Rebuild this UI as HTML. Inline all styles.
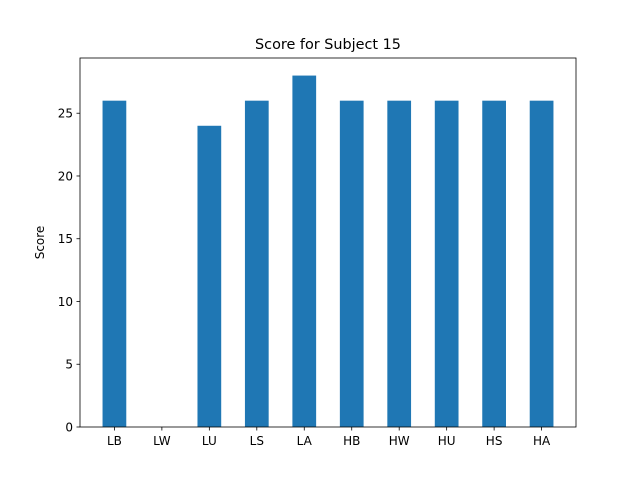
<!DOCTYPE html>
<html><head><meta charset="utf-8"><style>body{margin:0;background:#fff}svg{display:block;font-family:"DejaVu Sans","Liberation Sans",sans-serif}</style></head>
<body>
<svg id="chart" width="640" height="480" viewBox="0 0 640 480" xmlns="http://www.w3.org/2000/svg">
<rect width="640" height="480" fill="#fff"/>
<text x="328" y="49" text-anchor="middle" font-size="14.4">Score for Subject 15</text>
<text transform="translate(44,242.5) rotate(-90)" text-anchor="middle" font-size="12">Score</text>
<g id="marks"></g>
<rect x="80" y="58" width="496" height="369" fill="none" stroke="#000" stroke-width="0.8"/>
</svg>
<script>
const categories = ["LB","LW","LU","LS","LA","HB","HW","HU","HS","HA"];
const scores = [26,0,24,26,28,26,26,26,26,26];
const yTicks = [0,5,10,15,20,25];
const L=80,R=576,T=58,B=427;
const xmin=-0.725,xmax=categories.length-1+0.725;
const ymax=Math.max(...scores)*1.05;
const xs=i=>L+(i-xmin)/(xmax-xmin)*(R-L);
const ys=v=>B-v/ymax*(B-T);
const ns="http://www.w3.org/2000/svg";
const g=document.getElementById('marks');
function mk(t,a){const e=document.createElementNS(ns,t);for(const k in a)e.setAttribute(k,a[k]);g.appendChild(e);return e;}
categories.forEach((c,i)=>{
  const w=0.5*(R-L)/(xmax-xmin);
  const r=mk('rect',{x:xs(i)-w/2,y:ys(scores[i]),width:w,height:B-ys(scores[i]),fill:'#1f77b4'});
  
  
  const t=mk('line',{x1:xs(i),x2:xs(i),y1:B,y2:B+3.5,stroke:'#000','stroke-width':0.8});
  
  
  const l=mk('text',{x:xs(i),y:B+18,'text-anchor':'middle','font-size':12});
  l.textContent=c;
  
  
});
yTicks.forEach(v=>{
  const t=mk('line',{x1:L-3.5,x2:L,y1:ys(v),y2:ys(v),stroke:'#000','stroke-width':0.8});
  
  
  const l=mk('text',{x:L-7,y:ys(v)+4.5,'text-anchor':'end','font-size':12});
  l.textContent=v;
  
  
});
</script>
</body></html>
